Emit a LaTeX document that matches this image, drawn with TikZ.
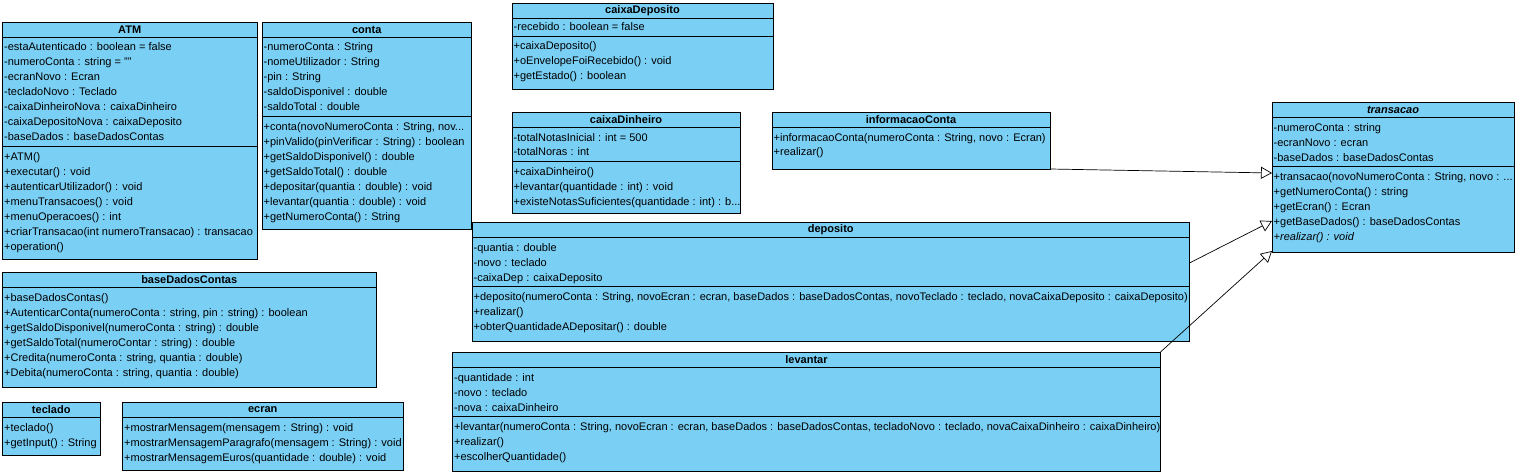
\documentclass[tikz,border=0pt]{standalone}
\usepackage{fontspec}
\setmainfont{Liberation Sans}
\usetikzlibrary{arrows.meta}
\definecolor{vpblue}{RGB}{122,207,245}
\newcounter{rowc}
\tikzset{
  cls/.style={draw=black, fill=vpblue, line width=0.9pt, anchor=north west, inner sep=0pt, outer sep=0pt},
  ln/.style={line width=0.9pt, black},
  txt/.style={anchor=base west, inner sep=0pt, font=\fontsize{11}{13}\selectfont},
  hdr/.style={anchor=center, inner sep=0pt, font=\fontsize{11}{13}\selectfont\bfseries},
  gen/.style={line width=0.7pt, black, -{Triangle[open, length=11pt, width=12pt, fill=white]}}
}
\newcommand\ubox[6]{\node[cls, minimum width={#4-#2}, minimum height={#5-#3}] (#1) at (#2,#3) {};
  \draw[ln] (#2,#6) -- (#4,#6);}
\newcommand\usep[3]{\draw[ln] (#1,#3) -- (#2,#3);}
\newcommand\uhead[5]{\node[hdr] (#1-title) at ({(#2+#3)/2},#4) {#5};}
\newcommand\urow[3]{\stepcounter{rowc}\node[txt] (row\arabic{rowc}) at ({#1+1.5},{#2+4}) {#3};}
\begin{document}
\begin{tikzpicture}[x=1pt,y=-1pt]
\useasboundingbox (0,0) rectangle (1516,476);
\fill[white] (0,0) rectangle (1516,476);

% ATM
\ubox{atm}{2.5}{22}{257}{259}{37.5}
\uhead{atm}{2.5}{257}{30}{ATM}
\urow{2.5}{47}{-estaAutenticado : boolean = false}
\urow{2.5}{62}{-numeroConta : string = ""}
\urow{2.5}{77}{-ecranNovo : Ecran}
\urow{2.5}{92}{-tecladoNovo : Teclado}
\urow{2.5}{107}{-caixaDinheiroNova : caixaDinheiro}
\urow{2.5}{122}{-caixaDepositoNova : caixaDeposito}
\urow{2.5}{137}{-baseDados : baseDadosContas}
\usep{2.5}{257}{146.5}
\urow{2.5}{156.5}{+ATM()}
\urow{2.5}{171.5}{+executar() : void}
\urow{2.5}{186.5}{+autenticarUtilizador() : void}
\urow{2.5}{201.5}{+menuTransacoes() : void}
\urow{2.5}{216.5}{+menuOperacoes() : int}
\urow{2.5}{231.5}{+criarTransacao(int numeroTransacao) : transacao}
\urow{2.5}{246.5}{+operation()}

% conta
\ubox{conta}{262}{22}{471.5}{229.5}{37.5}
\uhead{conta}{262}{471.5}{30}{conta}
\urow{262}{47}{-numeroConta : String}
\urow{262}{62}{-nomeUtilizador : String}
\urow{262}{77}{-pin : String}
\urow{262}{92}{-saldoDisponivel : double}
\urow{262}{107}{-saldoTotal : double}
\usep{262}{471.5}{116.5}
\urow{262}{126.5}{+conta(novoNumeroConta : String, nov...}
\urow{262}{141.5}{+pinValido(pinVerificar : String) : boolean}
\urow{262}{156.5}{+getSaldoDisponivel() : double}
\urow{262}{171.5}{+getSaldoTotal() : double}
\urow{262}{186.5}{+depositar(quantia : double) : void}
\urow{262}{201.5}{+levantar(quantia : double) : void}
\urow{262}{216.5}{+getNumeroConta() : String}

% caixaDeposito
\ubox{caixaDeposito}{512}{3}{773}{89.5}{18.5}
\uhead{caixaDeposito}{512}{773}{11}{caixaDeposito}
\urow{512}{27}{-recebido : boolean = false}
\usep{512}{773}{36}
\urow{512}{45.5}{+caixaDeposito()}
\urow{512}{60.5}{+oEnvelopeFoiRecebido() : void}
\urow{512}{75.5}{+getEstado() : boolean}

% caixaDinheiro
\ubox{caixaDinheiro}{512}{112}{740}{213.5}{127.5}
\uhead{caixaDinheiro}{512}{740}{120}{caixaDinheiro}
\urow{512}{137.5}{-totalNotasInicial : int = 500}
\urow{512}{152}{-totalNoras : int}
\usep{512}{740}{161.5}
\urow{512}{171.5}{+caixaDinheiro()}
\urow{512}{186.5}{+levantar(quantidade : int) : void}
\urow{512}{201.5}{+existeNotasSuficientes(quantidade : int) : b...}

% informacaoConta
\ubox{infoConta}{772}{112}{1050}{169}{127.5}
\uhead{infoConta}{772}{1050}{120}{informacaoConta}
\urow{772}{137.5}{+informacaoConta(numeroConta : String, novo : Ecran)}
\urow{772}{152}{+realizar()}

% transacao
\ubox{transacao}{1272}{102}{1514}{252}{117.5}
\uhead{transacao}{1272}{1514}{110}{\itshape transacao}
\urow{1272}{127.5}{-numeroConta : string}
\urow{1272}{142.5}{-ecranNovo : ecran}
\urow{1272}{157.5}{-baseDados : baseDadosContas}
\usep{1272}{1514}{166}
\urow{1272}{176}{+transacao(novoNumeroConta : String, novo : ...}
\urow{1272}{191}{+getNumeroConta() : string}
\urow{1272}{206}{+getEcran() : Ecran}
\urow{1272}{221}{+getBaseDados() : baseDadosContas}
\urow{1272}{236}{\itshape +realizar() : void}

% deposito
\ubox{deposito}{472}{222}{1189.5}{341.5}{237.5}
\uhead{deposito}{472}{1189.5}{230}{deposito}
\urow{472}{247.5}{-quantia : double}
\urow{472}{262.5}{-novo : teclado}
\urow{472}{277.5}{-caixaDep : caixaDeposito}
\usep{472}{1189.5}{286.5}
\urow{472}{296.5}{+deposito(numeroConta : String, novoEcran : ecran, baseDados : baseDadosContas, novoTeclado : teclado, novaCaixaDeposito : caixaDeposito)}
\urow{472}{311.5}{+realizar()}
\urow{472}{326.5}{+obterQuantidadeADepositar() : double}

% levantar
\ubox{levantar}{452.5}{352}{1160.5}{471.5}{367.5}
\uhead{levantar}{452.5}{1160.5}{360}{levantar}
\urow{452.5}{377.5}{-quantidade : int}
\urow{452.5}{392.5}{-novo : teclado}
\urow{452.5}{407.5}{-nova : caixaDinheiro}
\usep{452.5}{1160.5}{416.5}
\urow{452.5}{426.5}{+levantar(numeroConta : String, novoEcran : ecran, baseDados : baseDadosContas, tecladoNovo : teclado, novaCaixaDinheiro : caixaDinheiro)}
\urow{452.5}{441.5}{+realizar()}
\urow{452.5}{456.5}{+escolherQuantidade()}

% baseDadosContas
\ubox{baseDadosContas}{2.5}{272}{376}{387.5}{287.5}
\uhead{baseDadosContas}{2.5}{376}{280}{baseDadosContas}
\urow{2.5}{297.5}{+baseDadosContas()}
\urow{2.5}{312.5}{+AutenticarConta(numeroConta : string, pin : string) : boolean}
\urow{2.5}{327.5}{+getSaldoDisponivel(numeroConta : string) : double}
\urow{2.5}{342.5}{+getSaldoTotal(numeroContar : string) : double}
\urow{2.5}{357.5}{+Credita(numeroConta : string, quantia : double)}
\urow{2.5}{372.5}{+Debita(numeroConta : string, quantia : double)}

% teclado
\ubox{teclado}{2.5}{402}{100}{455.5}{417.5}
\uhead{teclado}{2.5}{100}{410}{teclado}
\urow{2.5}{427.5}{+teclado()}
\urow{2.5}{442.5}{+getInput() : String}

% ecran
\ubox{ecran}{122.5}{402}{403}{470}{417.5}
\uhead{ecran}{122.5}{403}{410}{ecran}
\urow{122.5}{427.5}{+mostrarMensagem(mensagem : String) : void}
\urow{122.5}{442.5}{+mostrarMensagemParagrafo(mensagem : String) : void}
\urow{122.5}{457.5}{+mostrarMensagemEuros(quantidade : double) : void}

% generalizations
\path (infoConta.south east) coordinate (icOut);
\path (transacao.north west) ++(0,71) coordinate (tIn1);
\path (deposito.north east) ++(0,41) coordinate (depOut);
\path (transacao.north west) ++(0,119) coordinate (tIn2);
\path (levantar.north east) coordinate (levOut);
\path (transacao.south west) ++(0,-1) coordinate (tIn3);
\draw[gen] (icOut) -- (tIn1);
\draw[gen] (depOut) -- (tIn2);
\draw[gen] (levOut) -- (tIn3);
\end{tikzpicture}
\end{document}
